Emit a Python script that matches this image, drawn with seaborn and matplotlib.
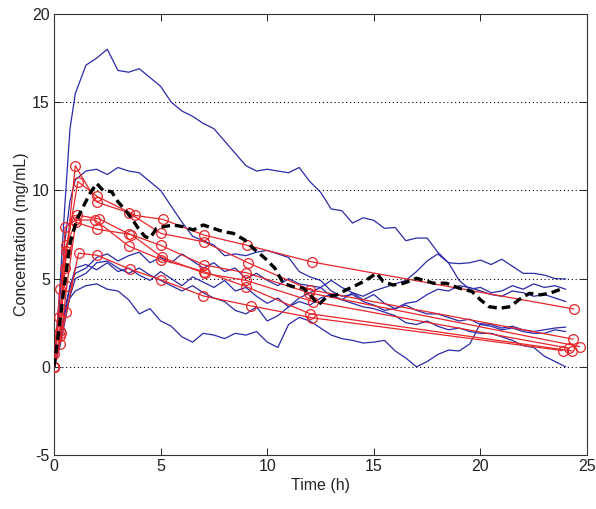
import matplotlib
matplotlib.use("Agg")
import matplotlib.pyplot as plt
import seaborn as sns
import pandas as pd
import numpy as np

# ---------------- data ----------------
# simulated (blue) traces on a common time grid
sim_time = [0, 0.25, 0.5, 0.75, 1, 1.5, 2, 2.5, 3, 3.5, 4, 4.5, 5, 5.5, 6, 6.5, 7, 7.5,
            8, 8.5, 9, 9.5, 10, 10.5, 11, 11.5, 12, 12.5, 13, 13.5, 14, 14.5, 15, 15.5,
            16, 16.5, 17, 17.5, 18, 18.5, 19, 19.5, 20, 20.5, 21, 21.5, 22, 22.5, 23, 23.5, 24]

sim1 = [0, 4, 9, 13.5, 15.5, 17.1, 17.5, 18.0, 16.8, 16.7, 16.9, 16.4, 15.9, 15.0, 14.5, 14.2,
        13.8, 13.5, 12.8, 12.1, 11.4, 11.1, 11.2, 11.1, 11.0, 11.3, 10.5, 9.9, 8.95, 8.85, 8.15,
        8.45, 8.3, 7.85, 7.9, 7.15, 7.3, 7.3, 6.5, 5.9, 4.9, 4.4, 4.5, 4.2, 4.3, 4.6, 4.4, 4.7,
        4.5, 4.6, 4.4]
sim2 = [0, 3.5, 7.0, 9.4, 10.6, 11.1, 11.2, 10.9, 11.3, 11.1, 11.0, 10.5, 10.0, 9.1, 8.2, 7.4,
        7.15, 6.9, 6.3, 6.4, 6.3, 6.5, 6.6, 6.4, 6.2, 5.4, 5.1, 4.9, 4.3, 4.0, 4.1, 3.7, 3.5, 3.2,
        3.3, 3.6, 3.7, 4.1, 4.4, 4.3, 4.6, 4.5, 4.3, 4.1, 4.0, 4.3, 4.2, 4.0, 4.1, 3.9, 3.7]
sim3 = [0, 1.5, 3.2, 4.6, 5.3, 5.6, 6.2, 6.4, 6.0, 6.3, 6.5, 5.9, 6.2, 5.9, 6.4, 6.0, 5.6, 5.9,
        5.4, 5.6, 5.0, 5.3, 4.9, 4.6, 5.0, 4.7, 4.6, 4.5, 4.9, 4.5, 4.2, 3.8, 4.1, 3.6, 3.3, 3.5,
        3.2, 3.0, 3.0, 2.8, 2.6, 2.7, 2.4, 2.3, 2.1, 2.2, 2.0, 1.9, 1.9, 2.1, 2.0]
sim4 = [0, 1.2, 3.0, 4.5, 5.6, 5.8, 5.5, 5.9, 5.4, 5.6, 5.2, 4.9, 5.4, 5.0, 4.6, 5.1, 4.8, 4.5,
        4.9, 4.3, 4.5, 4.0, 3.6, 3.9, 3.4, 3.7, 3.5, 3.9, 4.1, 3.8, 4.2, 4.0, 4.3, 4.5, 4.7, 4.9,
        5.4, 6.0, 6.4, 5.9, 5.85, 5.9, 6.05, 5.8, 6.1, 5.7, 5.3, 5.3, 5.2, 5.0, 4.98]
sim5 = [0, 1.5, 3.0, 3.9, 4.3, 4.6, 4.7, 4.4, 4.3, 3.8, 3.0, 3.3, 2.6, 2.3, 1.7, 1.4, 1.9, 1.8,
        1.6, 1.9, 1.8, 2.0, 1.4, 1.1, 2.4, 2.8, 2.6, 2.2, 1.8, 1.6, 1.5, 1.35, 1.4, 1.5, 0.9, 0.5,
        0.0, 0.3, 0.7, 0.95, 0.9, 1.3, 2.45, 2.4, 2.2, 2.3, 2.1, 2.0, 2.1, 2.2, 2.25]
sim6 = [0, 1.0, 2.5, 4.0, 5.0, 5.3, 5.9, 6.0, 5.6, 5.3, 5.6, 5.2, 4.9, 4.6, 4.3, 4.6, 4.2, 3.9,
        3.7, 3.2, 3.0, 3.4, 2.6, 2.9, 3.4, 3.9, 4.2, 4.5, 4.0, 3.8, 3.6, 3.4, 3.3, 3.1, 2.9, 2.5,
        2.4, 2.6, 2.3, 2.1, 2.2, 2.0, 1.9, 1.9, 1.7, 1.5, 1.2, 1.1, 0.6, 0.3, 0.0]

# observed (red) profiles, subjects 1-6
obs_t1 = [0.00, 0.25, 0.57, 1.12, 2.02, 3.82, 5.10, 7.03, 9.05, 12.12, 24.37]
obs_c1 = [0.74, 2.84, 6.57, 10.50, 9.66, 8.58, 8.36, 7.47, 6.89, 5.94, 3.28]
obs_t2 = [0.00, 0.27, 0.52, 1.00, 1.92, 3.50, 5.02, 7.03, 9.00, 12.00, 24.30]
obs_c2 = [0.00, 1.72, 7.91, 8.31, 8.33, 6.85, 6.08, 5.40, 4.55, 3.01, 0.90]
obs_t3 = [0.00, 0.27, 0.58, 1.02, 2.02, 3.62, 5.08, 7.07, 9.00, 12.15, 24.17]
obs_c3 = [0.00, 4.40, 6.90, 8.20, 7.80, 7.50, 6.20, 5.30, 4.90, 3.70, 1.05]
obs_t4 = [0.00, 0.35, 0.60, 1.07, 2.13, 3.50, 5.02, 7.02, 9.02, 11.98, 24.65]
obs_c4 = [0.00, 1.89, 4.60, 8.60, 8.38, 7.54, 6.88, 5.78, 5.33, 4.19, 1.15]
obs_t5 = [0.00, 0.30, 0.52, 1.00, 2.02, 3.50, 5.02, 7.02, 9.10, 12.00, 24.35]
obs_c5 = [0.00, 2.02, 5.63, 11.40, 9.33, 8.74, 7.56, 7.09, 5.90, 4.37, 1.57]
obs_t6 = [0.00, 0.27, 0.58, 1.15, 2.03, 3.57, 5.00, 7.00, 9.22, 12.10, 23.85]
obs_c6 = [0.00, 1.29, 3.08, 6.44, 6.32, 5.53, 4.94, 4.02, 3.46, 2.78, 0.92]

# highlighted (black dashed) trace
mean_t = [0, 0.25, 0.44, 0.75, 1.06, 1.37, 1.69, 2.0, 2.3, 2.7, 3.0, 3.33, 3.64, 3.95, 4.27,
          4.5, 4.81, 5.12, 5.6, 6.06, 6.53, 7.0, 7.47, 7.94, 8.4, 8.95, 9.34, 9.9, 10.36, 10.75,
          11.2, 11.7, 12.08, 12.4, 12.8, 13.25, 13.7, 14.2, 14.66, 15.13, 15.44, 15.9, 16.4,
          17.0, 17.8, 18.4, 19.0, 19.6, 20.0, 20.4, 20.9, 21.4, 21.8, 22.3, 22.8, 23.25, 23.9]
mean_c = [0, 2.3, 4.17, 7.0, 8.3, 9.08, 9.83, 10.4, 10.0, 9.93, 9.36, 8.9, 8.42, 7.85, 7.38,
          7.29, 7.85, 7.94, 8.04, 7.94, 7.76, 8.04, 7.85, 7.66, 7.57, 7.19, 6.72, 6.15, 5.59, 4.74,
          4.55, 4.46, 3.98, 3.51, 3.98, 4.08, 4.36, 4.64, 4.93, 5.31, 4.83, 4.64, 4.74,
          5.02, 4.74, 4.74, 4.46, 4.27, 3.8, 3.41, 3.32, 3.41, 3.8, 4.17, 4.08, 4.17, 4.46]

x_ticks = [0, 5, 10, 15, 20, 25]
y_ticks = [-5, 0, 5, 10, 15, 20]

# ---------------- tables ----------------
sims = [sim1, sim2, sim3, sim4, sim5, sim6]
sim_df = pd.concat([pd.DataFrame({"Time": sim_time, "Conc": s, "run": i})
                    for i, s in enumerate(sims)], ignore_index=True)
obs = [(obs_t1, obs_c1), (obs_t2, obs_c2), (obs_t3, obs_c3),
       (obs_t4, obs_c4), (obs_t5, obs_c5), (obs_t6, obs_c6)]
obs_df = pd.concat([pd.DataFrame({"Time": t, "Conc": c, "subj": i})
                    for i, (t, c) in enumerate(obs)], ignore_index=True)
mean_df = pd.DataFrame({"Time": mean_t, "Conc": mean_c})

# ---------------- plot ----------------
sns.set_theme(style="white")
plt.rcParams["font.family"] = ["Liberation Sans Narrow", "Liberation Sans", "DejaVu Sans"]

fig = plt.figure(figsize=(5.96, 5.09), dpi=100)
ax = fig.add_axes([0.0906, 0.106, 0.8944, 0.8665])

for y in [0, 5, 10, 15]:
    ax.axhline(y, color="black", linestyle=(0, (1, 2.5)), linewidth=0.8, zorder=0.5)

sns.lineplot(data=sim_df, x="Time", y="Conc", units="run", estimator=None,
             color="#2a2aa8", linewidth=0.9, ax=ax, legend=False, zorder=2)
sns.lineplot(data=obs_df, x="Time", y="Conc", units="subj", estimator=None,
             color="#e8262a", linewidth=0.9, marker="o", markersize=7,
             markerfacecolor="none", markeredgecolor="#e8262a", markeredgewidth=0.9,
             ax=ax, legend=False, zorder=3)
sns.lineplot(data=mean_df, x="Time", y="Conc", estimator=None, color="black",
             linewidth=2.4, ax=ax, legend=False, zorder=4)
ax.lines[-1].set_dashes((2.6, 1.5))

ax.set_xlim(0, 25)
ax.set_ylim(-5, 20)
ax.set_xticks(x_ticks)
ax.set_yticks(y_ticks)
ax.set_xticklabels([str(v) for v in x_ticks], fontsize=11.5)
ax.set_yticklabels([str(v) for v in y_ticks], fontsize=11.5)
ax.tick_params(direction="in", length=5, width=0.7, top=True, right=True,
               bottom=True, left=True, colors="#222222", pad=3)
for sp in ax.spines.values():
    sp.set_visible(True)
    sp.set_color("#333333")
    sp.set_linewidth(0.8)
ax.grid(False)
ax.set_xlabel("Time (h)", fontsize=11.5, labelpad=3)
ax.set_ylabel("Concentration (mg/mL)", fontsize=11.5, labelpad=2)

fig.savefig("out.png", dpi=100)
